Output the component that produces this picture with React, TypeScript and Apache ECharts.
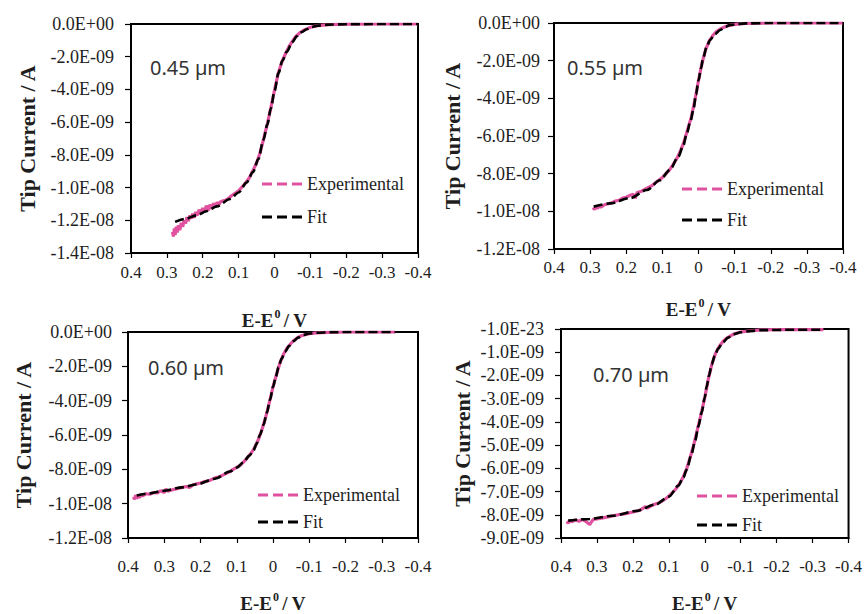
import React, { useEffect, useRef } from 'react';
import * as echarts from 'echarts';

// ---------- data (E - E0 in V, tip current in A) ----------
const X_TICK_LABELS = ['0.4', '0.3', '0.2', '0.1', '0', '-0.1', '-0.2', '-0.3', '-0.4'];
const Y_TICKS_045 = ['0.0E+00', '-2.0E-09', '-4.0E-09', '-6.0E-09', '-8.0E-09', '-1.0E-08', '-1.2E-08', '-1.4E-08'];
const Y_TICKS_055 = ['0.0E+00', '-2.0E-09', '-4.0E-09', '-6.0E-09', '-8.0E-09', '-1.0E-08', '-1.2E-08'];
const Y_TICKS_060 = ['0.0E+00', '-2.0E-09', '-4.0E-09', '-6.0E-09', '-8.0E-09', '-1.0E-08', '-1.2E-08'];
const Y_TICKS_070 = ['-1.0E-23', '-1.0E-09', '-2.0E-09', '-3.0E-09', '-4.0E-09', '-5.0E-09', '-6.0E-09', '-7.0E-09', '-8.0E-09', '-9.0E-09'];
const SIZE_LABELS = ['0.45 µm', '0.55 µm', '0.60 µm', '0.70 µm'];
const SERIES_NAMES = ['Experimental', 'Fit'];

const FIT_045 = [
  [0.277, -12.1e-9], [0.25, -11.92e-9], [0.217, -11.7e-9], [0.19, -11.45e-9], [0.161, -11.15e-9],
  [0.124, -10.7e-9], [0.1, -10.3e-9], [0.078, -9.7e-9], [0.06, -9.05e-9], [0.045, -8.25e-9],
  [0.031, -7.1e-9], [0.02, -6.15e-9], [0.01, -5.15e-9], [0, -4.1e-9], [-0.011, -3.0e-9],
  [-0.022, -2.25e-9], [-0.034, -1.7e-9], [-0.05, -1.1e-9], [-0.062, -0.75e-9], [-0.075, -0.5e-9],
  [-0.09, -0.32e-9], [-0.105, -0.18e-9], [-0.12, -0.1e-9], [-0.15, -0.04e-9], [-0.2, -0.01e-9],
  [-0.3, 0], [-0.4, 0],
];
const EXP_045 = [
  [0.284, -12.7e-9], [0.282, -13.0e-9], [0.279, -12.5e-9], [0.277, -12.9e-9], [0.274, -12.4e-9],
  [0.271, -12.75e-9], [0.268, -12.3e-9], [0.264, -12.6e-9], [0.26, -12.15e-9], [0.256, -12.4e-9],
  [0.252, -12.0e-9], [0.248, -12.2e-9], [0.244, -11.8e-9], [0.24, -12.05e-9], [0.236, -11.7e-9],
  [0.232, -11.9e-9], [0.228, -11.6e-9], [0.224, -11.85e-9], [0.22, -11.5e-9], [0.215, -11.7e-9],
  [0.21, -11.35e-9], [0.205, -11.6e-9], [0.2, -11.25e-9], [0.195, -11.5e-9], [0.19, -11.1e-9],
  [0.185, -11.4e-9], [0.18, -11.05e-9], [0.175, -11.3e-9], [0.17, -10.95e-9], [0.165, -11.2e-9],
  [0.16, -10.9e-9], [0.155, -11.05e-9], [0.15, -10.85e-9], [0.14, -10.8e-9], [0.13, -10.7e-9],
  [0.12, -10.5e-9], [0.11, -10.35e-9], [0.1, -10.2e-9], [0.09, -9.95e-9], [0.08, -9.7e-9],
  [0.07, -9.4e-9], [0.06, -8.95e-9], [0.05, -8.5e-9], [0.04, -7.85e-9], [0.03, -7.0e-9],
  [0.02, -6.1e-9], [0.01, -5.1e-9], [0, -4.05e-9], [-0.01, -3.05e-9], [-0.02, -2.35e-9],
  [-0.03, -1.85e-9], [-0.04, -1.4e-9], [-0.05, -1.05e-9], [-0.06, -0.75e-9], [-0.07, -0.55e-9],
  [-0.08, -0.4e-9], [-0.09, -0.3e-9], [-0.1, -0.2e-9], [-0.12, -0.1e-9], [-0.15, -0.04e-9],
  [-0.2, -0.01e-9], [-0.3, 0], [-0.4, 0],
];

const FIT_055 = [
  [0.29, -9.75e-9], [0.245, -9.58e-9], [0.19, -9.3e-9], [0.143, -8.87e-9], [0.107, -8.35e-9],
  [0.079, -7.8e-9], [0.056, -7.1e-9], [0.042, -6.5e-9], [0.033, -5.9e-9], [0.022, -5.2e-9],
  [0.014, -4.6e-9], [0.007, -3.8e-9], [0, -3.05e-9], [-0.007, -2.4e-9], [-0.013, -1.85e-9],
  [-0.022, -1.3e-9], [-0.032, -0.9e-9], [-0.045, -0.6e-9], [-0.06, -0.37e-9], [-0.075, -0.2e-9],
  [-0.087, -0.11e-9], [-0.11, -0.05e-9], [-0.133, -0.02e-9], [-0.2, 0], [-0.4, 0],
];
const EXP_055 = [
  [0.292, -9.8e-9], [0.288, -9.9e-9], [0.284, -9.75e-9], [0.28, -9.85e-9], [0.275, -9.72e-9],
  [0.27, -9.78e-9], [0.26, -9.65e-9], [0.25, -9.6e-9], [0.24, -9.55e-9], [0.23, -9.45e-9],
  [0.22, -9.42e-9], [0.21, -9.3e-9], [0.2, -9.25e-9], [0.19, -9.15e-9], [0.18, -9.1e-9],
  [0.175, -9.3e-9], [0.17, -9.0e-9], [0.16, -8.95e-9], [0.15, -8.85e-9], [0.14, -8.75e-9],
  [0.13, -8.65e-9], [0.12, -8.5e-9], [0.11, -8.35e-9], [0.1, -8.2e-9], [0.09, -8.0e-9],
  [0.08, -7.8e-9], [0.07, -7.5e-9], [0.06, -7.2e-9], [0.05, -6.8e-9], [0.04, -6.3e-9],
  [0.03, -5.65e-9], [0.02, -5.0e-9], [0.01, -4.1e-9], [0, -3.05e-9], [-0.01, -2.1e-9],
  [-0.02, -1.4e-9], [-0.03, -0.95e-9], [-0.04, -0.65e-9], [-0.05, -0.45e-9], [-0.06, -0.32e-9],
  [-0.08, -0.15e-9], [-0.1, -0.07e-9], [-0.13, -0.02e-9], [-0.2, 0], [-0.3, 0], [-0.4, 0],
];

const FIT_060 = [
  [0.376, -9.52e-9], [0.34, -9.4e-9], [0.303, -9.25e-9], [0.25, -9.05e-9], [0.21, -8.87e-9],
  [0.16, -8.55e-9], [0.119, -8.13e-9], [0.1, -7.9e-9], [0.082, -7.6e-9], [0.065, -7.2e-9],
  [0.054, -6.9e-9], [0.045, -6.5e-9], [0.036, -6.0e-9], [0.026, -5.4e-9], [0.017, -4.7e-9],
  [0.008, -3.95e-9], [0, -3.2e-9], [-0.008, -2.6e-9], [-0.015, -2.05e-9], [-0.024, -1.55e-9],
  [-0.033, -1.15e-9], [-0.045, -0.8e-9], [-0.056, -0.54e-9], [-0.07, -0.32e-9], [-0.084, -0.17e-9],
  [-0.1, -0.09e-9], [-0.12, -0.04e-9], [-0.16, -0.01e-9], [-0.2, 0], [-0.337, 0],
];
const EXP_060 = [
  [0.385, -9.6e-9], [0.382, -9.75e-9], [0.379, -9.5e-9], [0.376, -9.7e-9], [0.372, -9.55e-9],
  [0.368, -9.65e-9], [0.364, -9.45e-9], [0.36, -9.55e-9], [0.35, -9.42e-9], [0.34, -9.45e-9],
  [0.33, -9.35e-9], [0.32, -9.38e-9], [0.31, -9.25e-9], [0.3, -9.35e-9], [0.295, -9.15e-9],
  [0.29, -9.28e-9], [0.28, -9.2e-9], [0.27, -9.15e-9], [0.26, -9.1e-9], [0.25, -9.05e-9],
  [0.24, -9.0e-9], [0.23, -9.05e-9], [0.22, -8.9e-9], [0.21, -8.85e-9], [0.2, -8.8e-9],
  [0.19, -8.72e-9], [0.18, -8.68e-9], [0.17, -8.6e-9], [0.16, -8.5e-9], [0.15, -8.45e-9],
  [0.14, -8.35e-9], [0.13, -8.25e-9], [0.12, -8.15e-9], [0.11, -8.0e-9], [0.1, -7.88e-9],
  [0.09, -7.75e-9], [0.08, -7.55e-9], [0.07, -7.3e-9], [0.06, -7.05e-9], [0.05, -6.7e-9],
  [0.04, -6.25e-9], [0.03, -5.65e-9], [0.02, -4.95e-9], [0.01, -4.1e-9], [0, -3.2e-9],
  [-0.01, -2.45e-9], [-0.02, -1.75e-9], [-0.03, -1.25e-9], [-0.04, -0.9e-9], [-0.05, -0.65e-9],
  [-0.06, -0.45e-9], [-0.07, -0.3e-9], [-0.08, -0.2e-9], [-0.1, -0.1e-9], [-0.12, -0.05e-9],
  [-0.15, -0.02e-9], [-0.2, 0], [-0.25, 0], [-0.3, 0], [-0.337, 0],
];

const FIT_070 = [
  [0.38, -8.25e-9], [0.32, -8.18e-9], [0.256, -8.04e-9], [0.192, -7.84e-9], [0.137, -7.56e-9],
  [0.1, -7.22e-9], [0.073, -6.74e-9], [0.06, -6.4e-9], [0.05, -6.05e-9], [0.038, -5.45e-9],
  [0.027, -4.82e-9], [0.018, -4.2e-9], [0.0085, -3.59e-9], [0, -2.95e-9], [-0.005, -2.5e-9],
  [-0.012, -2.0e-9], [-0.019, -1.53e-9], [-0.028, -1.15e-9], [-0.037, -0.85e-9], [-0.05, -0.58e-9],
  [-0.065, -0.37e-9], [-0.08, -0.22e-9], [-0.1, -0.14e-9], [-0.13, -0.08e-9], [-0.157, -0.05e-9],
  [-0.25, -0.03e-9], [-0.33, -0.03e-9],
];
const EXP_070 = [
  [0.385, -8.3e-9], [0.38, -8.35e-9], [0.375, -8.25e-9], [0.37, -8.3e-9], [0.36, -8.22e-9],
  [0.35, -8.28e-9], [0.34, -8.2e-9], [0.33, -8.3e-9], [0.32, -8.42e-9], [0.315, -8.3e-9],
  [0.31, -8.2e-9], [0.3, -8.18e-9], [0.28, -8.12e-9], [0.26, -8.06e-9], [0.24, -8.0e-9],
  [0.22, -7.95e-9], [0.2, -7.88e-9], [0.18, -7.8e-9], [0.165, -7.65e-9], [0.16, -7.72e-9],
  [0.15, -7.62e-9], [0.14, -7.55e-9], [0.13, -7.5e-9], [0.12, -7.42e-9], [0.11, -7.32e-9],
  [0.1, -7.2e-9], [0.09, -7.05e-9], [0.08, -6.88e-9], [0.07, -6.65e-9], [0.06, -6.38e-9],
  [0.05, -6.0e-9], [0.04, -5.5e-9], [0.03, -4.95e-9], [0.02, -4.3e-9], [0.01, -3.65e-9],
  [0, -2.95e-9], [-0.01, -2.15e-9], [-0.02, -1.5e-9], [-0.03, -1.05e-9], [-0.04, -0.75e-9],
  [-0.05, -0.55e-9], [-0.06, -0.4e-9], [-0.08, -0.22e-9], [-0.1, -0.13e-9], [-0.13, -0.07e-9],
  [-0.16, -0.04e-9], [-0.2, -0.03e-9], [-0.25, -0.03e-9], [-0.3, -0.03e-9], [-0.33, -0.03e-9],
];

// ---------- styling / layout ----------
const SERIF = 'Liberation Serif';
const SANS = 'Noto Sans';
const PINK = '#E0529F';
const TEXT = '#1e1e1e';
const DASH_ICON = 'path://M0,0H10V3H0Z M15,0H25V3H15Z M30,0H40V3H30Z';

const PANELS = [
  {
    fit: FIT_045, exp: EXP_045, label: SIZE_LABELS[0], yMin: -1.4e-8, yInterval: 2e-9, yTicks: Y_TICKS_045,
    grid: { left: 131, top: 24, width: 287, height: 229 }, labelPos: [150, 57],
    legend: { left: 262, top: 175, gap: 15 }, yNameGap: 93, xNameGap: 55, xLabelMargin: 11, yLabelMargin: 17,
  },
  {
    fit: FIT_055, exp: EXP_055, label: SIZE_LABELS[1], yMin: -1.2e-8, yInterval: 2e-9, yTicks: Y_TICKS_055,
    grid: { left: 554, top: 23, width: 289, height: 226 }, labelPos: [567, 57],
    legend: { left: 682, top: 180, gap: 13 }, yNameGap: 91, xNameGap: 48, xLabelMargin: 10, yLabelMargin: 14,
  },
  {
    fit: FIT_060, exp: EXP_060, label: SIZE_LABELS[2], yMin: -1.2e-8, yInterval: 2e-9, yTicks: Y_TICKS_060,
    grid: { left: 128, top: 332, width: 290, height: 216 }, labelPos: [148, 357],
    legend: { left: 258, top: 486, gap: 9 }, yNameGap: 94, xNameGap: 53, xLabelMargin: 20, yLabelMargin: 16,
  },
  {
    fit: FIT_070, exp: EXP_070, label: SIZE_LABELS[3], yMin: -9e-9, yInterval: 1e-9, yTicks: Y_TICKS_070,
    grid: { left: 561, top: 329, width: 291, height: 219 }, labelPos: [593, 364],
    legend: { left: 697, top: 487, gap: 11 }, yNameGap: 88, xNameGap: 53, xLabelMargin: 20, yLabelMargin: 17,
  },
];

function buildOption() {
  const grid: any[] = [];
  const xAxis: any[] = [];
  const yAxis: any[] = [];
  const series: any[] = [];
  const legend: any[] = [];
  const graphic: any[] = [];

  PANELS.forEach((p, i) => {
    grid.push({ ...p.grid, show: true, borderColor: '#000', borderWidth: 2, backgroundColor: '#fff' });
    xAxis.push({
      type: 'value', gridIndex: i, min: -0.4, max: 0.4, interval: 0.1, inverse: true,
      axisLine: { show: true, onZero: false, lineStyle: { color: '#000', width: 2 } },
      axisTick: { show: true, inside: false, length: 5, lineStyle: { color: '#000', width: 1.2 } },
      splitLine: { show: false },
      axisLabel: {
        margin: p.xLabelMargin, fontFamily: SERIF, fontSize: 17, color: TEXT,
        formatter: (v: number) => X_TICK_LABELS[Math.round((0.4 - v) / 0.1)] ?? '',
      },
      name: '{b|E-E}{s|0}{b|/ V}', nameLocation: 'middle', nameGap: p.xNameGap,
      nameTextStyle: {
        rich: {
          b: { fontFamily: SERIF, fontWeight: 'bold', fontSize: 19, color: TEXT, verticalAlign: 'bottom', lineHeight: 22 },
          s: { fontFamily: SERIF, fontWeight: 'bold', fontSize: 12, color: TEXT, verticalAlign: 'top', lineHeight: 22, padding: [0, 3, 0, 1] },
        },
      },
    });
    yAxis.push({
      type: 'value', gridIndex: i, min: p.yMin, max: 0, interval: p.yInterval,
      axisLine: { show: true, onZero: false, lineStyle: { color: '#000', width: 2 } },
      axisTick: { show: true, inside: false, length: 6, lineStyle: { color: '#000', width: 1.2 } },
      splitLine: { show: false },
      axisLabel: {
        margin: p.yLabelMargin, fontFamily: SERIF, fontSize: 18, color: TEXT,
        formatter: (v: number) => p.yTicks[Math.round(-v / p.yInterval)] ?? '',
      },
      name: 'Tip Current / A', nameLocation: 'middle', nameRotate: 90, nameGap: p.yNameGap,
      nameTextStyle: { fontFamily: SERIF, fontWeight: 'bold', fontSize: 22, color: TEXT },
    });
    series.push({
      name: SERIES_NAMES[0], type: 'line', xAxisIndex: i, yAxisIndex: i, data: p.exp,
      symbol: 'none', showSymbol: false, z: 2,
      lineStyle: { color: PINK, width: 3.2 }, itemStyle: { color: PINK },
    });
    series.push({
      name: SERIES_NAMES[1], type: 'line', xAxisIndex: i, yAxisIndex: i, data: p.fit,
      symbol: 'none', showSymbol: false, z: 3, smooth: 0.3, smoothMonotone: 'x',
      lineStyle: { color: '#000', width: 2.6, type: [9, 4] }, itemStyle: { color: '#000' },
    });
    legend.push({
      orient: 'vertical', left: p.legend.left, top: p.legend.top, itemGap: p.legend.gap,
      itemWidth: 40, itemHeight: 14, selectedMode: false, padding: 0,
      icon: DASH_ICON,
      data: SERIES_NAMES,
      textStyle: { fontFamily: SERIF, fontSize: 18, color: TEXT },
    });
    graphic.push({
      type: 'text', left: p.labelPos[0], top: p.labelPos[1], z: 10,
      style: { text: p.label, fontFamily: SANS, fontSize: 20, fill: '#333' },
    });
  });

  return {
    animation: false,
    backgroundColor: '#fff',
    textStyle: { fontFamily: SERIF },
    grid, xAxis, yAxis, series, legend, graphic,
  };
}

export default function App() {
  const ref = useRef<HTMLDivElement>(null);
  useEffect(() => {
    if (!ref.current) return;
    const chart = echarts.init(ref.current, undefined, { renderer: 'svg' });
    chart.setOption(buildOption() as any);
    return () => chart.dispose();
  }, []);
  return (
    <div
      ref={ref}
      style={{ position: 'absolute', left: 0, top: 0, width: 865, height: 614, background: '#fff' }}
    />
  );
}
